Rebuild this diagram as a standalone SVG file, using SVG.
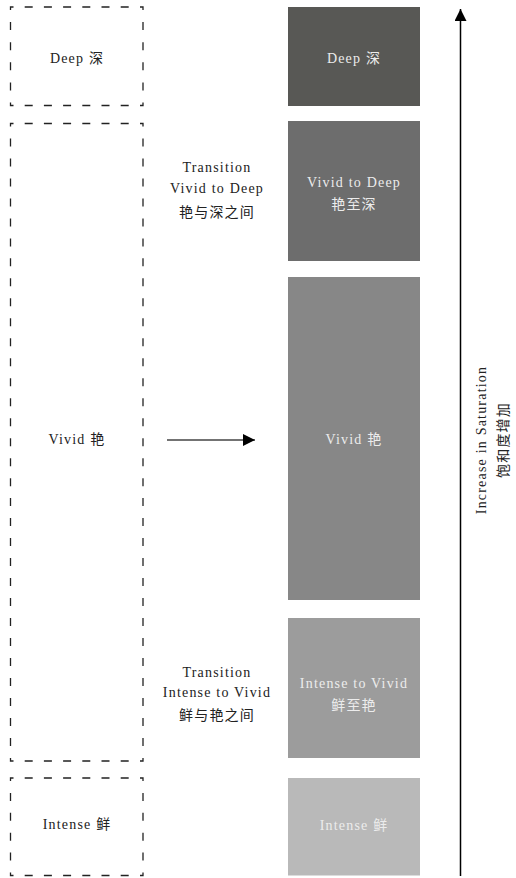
<svg xmlns="http://www.w3.org/2000/svg" width="516" height="878" viewBox="0 0 516 878">
<style>
.corner{fill:none;stroke:#222;stroke-width:1.3}
.side{stroke:#222;stroke-width:1.3}
.h{stroke-dasharray:8 11.2}
.lbl{font-family:"Liberation Serif","Noto Sans CJK SC",serif;font-size:14px;letter-spacing:1.2px;text-anchor:middle;fill:#222}
.inv{fill:#ececec}
.conn{stroke-width:1.5;fill:none}
</style>
<defs>
<marker id="ah2" viewBox="0 0 12 12" refX="12" refY="6" markerWidth="12" markerHeight="12" markerUnits="userSpaceOnUse" orient="auto">
<path d="M0,0 L12,6 L0,12 z" fill="#000"/>
</marker>
</defs>
<g id="left-deep">
<path class="corner" d="M10.5,10 V7 H13.5 M140,7 H143 V10 M143,102.5 V105.5 H140 M13.5,105.5 H10.5 V102.5"/>
<line class="side h" x1="24.7" y1="7" x2="128.8" y2="7"/>
<line class="side h" x1="24.7" y1="105.5" x2="128.8" y2="105.5"/>
<line class="side" style="stroke-dasharray:8 12.1" x1="10.5" y1="22.1" x2="10.5" y2="90.4"/>
<line class="side" style="stroke-dasharray:8 12.1" x1="143" y1="22.1" x2="143" y2="90.4"/>
<text class="lbl" x="77" y="63">Deep 深</text>
</g>
<g id="left-vivid">
<path class="corner" d="M10.5,126.5 V123.5 H13.5 M140,123.5 H143 V126.5 M143,758 V761 H140 M13.5,761 H10.5 V758"/>
<line class="side h" x1="24.7" y1="123.5" x2="128.8" y2="123.5"/>
<line class="side h" x1="24.7" y1="761" x2="128.8" y2="761"/>
<line class="side" style="stroke-dasharray:8 11.98" x1="10.5" y1="138.48" x2="10.5" y2="746.02"/>
<line class="side" style="stroke-dasharray:8 11.98" x1="143" y1="138.48" x2="143" y2="746.02"/>
<text class="lbl" x="77" y="444">Vivid 艳</text>
</g>
<g id="left-intense">
<path class="corner" d="M10.5,781 V778 H13.5 M140,778 H143 V781 M143,872.5 V875.5 H140 M13.5,875.5 H10.5 V872.5"/>
<line class="side h" x1="24.7" y1="778" x2="128.8" y2="778"/>
<line class="side h" x1="24.7" y1="875.5" x2="128.8" y2="875.5"/>
<line class="side" style="stroke-dasharray:8 11.9" x1="10.5" y1="792.9" x2="10.5" y2="860.6"/>
<line class="side" style="stroke-dasharray:8 11.9" x1="143" y1="792.9" x2="143" y2="860.6"/>
<text class="lbl" x="77" y="829">Intense 鲜</text>
</g>
<g id="trans-vd">
<text class="lbl" x="217" y="172">Transition</text>
<text class="lbl" x="217" y="193">Vivid to Deep</text>
<text class="lbl" x="217" y="217">艳与深之间</text>
</g>
<g id="trans-iv">
<text class="lbl" x="217" y="677">Transition</text>
<text class="lbl" x="217" y="697">Intense to Vivid</text>
<text class="lbl" x="217" y="720">鲜与艳之间</text>
</g>
<g id="deep">
<rect x="288" y="7" width="132" height="99" fill="#585855"/>
<text class="lbl inv" x="354" y="63">Deep 深</text>
</g>
<g id="vivid-deep">
<rect x="288" y="121" width="132" height="140" fill="#6d6d6d"/>
<text class="lbl inv" x="354" y="187">Vivid to Deep</text>
<text class="lbl inv" x="354" y="209">艳至深</text>
</g>
<g id="vivid">
<rect x="288" y="277" width="132" height="323" fill="#878787"/>
<text class="lbl inv" x="354" y="444">Vivid 艳</text>
</g>
<g id="intense-vivid">
<rect x="288" y="618" width="132" height="140" fill="#9c9c9c"/>
<text class="lbl inv" x="354" y="688">Intense to Vivid</text>
<text class="lbl inv" x="354" y="710">鲜至艳</text>
</g>
<g id="intense">
<rect x="288" y="778" width="132" height="97.5" fill="#b9b9b9"/>
<text class="lbl inv" x="354" y="830">Intense 鲜</text>
</g>
<g id="axis-label">
<text class="lbl" transform="translate(482,440) rotate(-90)" y="4">Increase in Saturation</text>
<text class="lbl" transform="translate(503,440) rotate(-90)" y="5">饱和度增加</text>
</g>
<g id="connectors">
<line class="conn" x1="167" y1="440" x2="255" y2="440" stroke="#444" marker-end="url(#ah2)"/>
<line class="conn" x1="460.5" y1="876" x2="460.5" y2="9" stroke="#000" marker-end="url(#ah2)"/>
</g>
</svg>
